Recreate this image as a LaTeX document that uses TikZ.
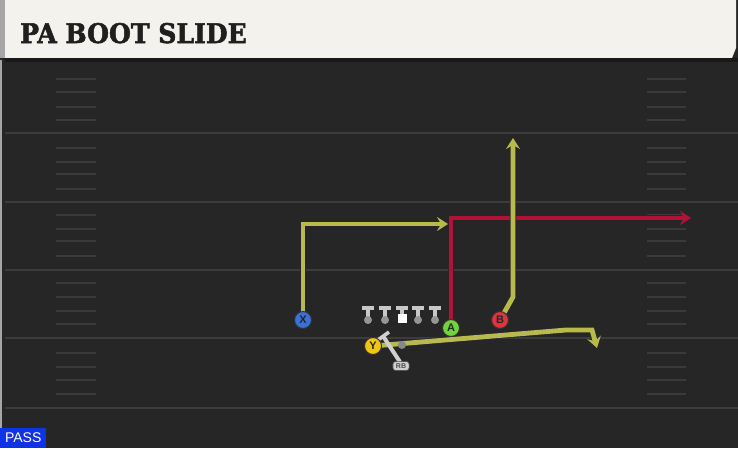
\documentclass[tikz,border=0pt]{standalone}
\usepackage{fontspec}
\setmainfont{Liberation Sans}
\newfontfamily\titlefont{DejaVu Serif Bold}[FakeBold=2]
\usetikzlibrary{arrows.meta}
\definecolor{field}{HTML}{262626}
\definecolor{yard}{HTML}{3C3C3C}
\definecolor{hash}{HTML}{3A3A3A}
\definecolor{hdr}{HTML}{F4F2EC}
\definecolor{rtyel}{HTML}{B8BB4B}
\definecolor{rtred}{HTML}{B0123A}
\definecolor{pblue}{HTML}{3A70D8}
\definecolor{pgreen}{HTML}{72D43C}
\definecolor{pred}{HTML}{E0323F}
\definecolor{pyel}{HTML}{F2C418}
\definecolor{olgrey}{HTML}{C8C8C8}
\definecolor{passblue}{HTML}{1033E6}
\tikzset{
  yardline/.style={draw=yard,line width=2pt},
  hashmark/.style={draw=hash,line width=1.6pt},
  route/.style={line width=4.8pt,line join=miter,
    preaction={draw=black!85,line width=6.4pt},
    -{Stealth[length=11pt,width=14pt,inset=4pt]}},
  yroute/.style={route,draw=rtyel},
  rroute/.style={route,draw=rtred},
  player/.style={circle,draw=black!80,line width=1pt,minimum size=17pt,inner sep=0pt,
    font=\bfseries\fontsize{11}{11}\selectfont,text=black!85},
  lineman/.style={draw=olgrey,line width=3.6pt},
}
\begin{document}
\begin{tikzpicture}[x=1pt,y=-1pt]
\useasboundingbox (0,0) rectangle (738,448);
% field
\fill[field] (0,0) rectangle (738,448);
\fill[black!35] (0,60) rectangle (2,448);
% header
\fill[black!35] (0,0) rectangle (5,58);
\fill[hdr] (5,0) -- (736,0) -- (736,48) -- (732,58) -- (5,58) -- cycle;
\fill[black!90] (5,58) rectangle (738,62);
\node[anchor=base west,inner sep=0pt,xscale=0.93,text=black!88] (title) at (20,43)
  {\titlefont\fontsize{27}{27}\selectfont PA BOOT SLIDE};
% yard lines
\foreach \yy in {133,202,270,338,408} \draw[yardline] (5,\yy) -- (738,\yy);
% hash marks
\foreach \yy in {79,92,107,120,148,162,174,189,215,229,241,256,283,297,311,324,353,367,380,394}{
  \draw[hashmark] (56,\yy) -- (96,\yy);
  \draw[hashmark] (647,\yy) -- (686,\yy);
}
% player anchors
\coordinate (xc) at (303,320);
\coordinate (ac) at (451,328);
\coordinate (bc) at (500,320);
\coordinate (yc) at (373,346);
% routes
\coordinate (x1) at (303,224);
\coordinate (x2) at (448,224);
\draw[yroute] (xc) -- (x1) -- (x2);
\coordinate (a1) at (451,218);
\coordinate (a2) at (691,218);
\draw[rroute] (ac) -- (a1) -- (a2);
\coordinate (b1) at (513,297);
\coordinate (b2) at (513,138);
\draw[yroute] (bc) -- (b1) -- (b2);
\coordinate (y1) at (566,330);
\coordinate (y2) at (592,330);
\coordinate (y3) at (597,348);
\draw[yroute] (yc) -- (y1) -- (y2) -- (y3);
% offensive line
\foreach \lx in {368,385,418,435}{
  \draw[lineman] (\lx-6,308) -- (\lx+6,308);
  \draw[lineman] (\lx,308) -- (\lx,318);
  \fill[olgrey!75!black] (\lx,320) circle (4pt);
}
\draw[lineman] (396,308) -- (408,308);
\draw[lineman] (402,308) -- (402,315);
\fill[white] (397.5,314) rectangle (406.5,322.5);
% QB ghost and RB
\fill[olgrey!60!field] (402,345) circle (4pt);
\draw[draw=olgrey!85,line width=4pt] (383,336) -- (400,362);
\draw[draw=olgrey!85,line width=3.6pt] (378,340) -- (389,332);
\node[fill=olgrey!85,draw=black!70,line width=0.6pt,rounded corners=2.5pt,inner xsep=3pt,inner ysep=2pt,
  font=\bfseries\fontsize{7}{7}\selectfont,text=black!70] (rb) at (401,366) {RB};
% players
\node[player,fill=pblue] (X) at (xc) {X};
\node[player,fill=pgreen] (A) at (ac) {A};
\node[player,fill=pred] (B) at (bc) {B};
\node[player,fill=pyel] (Y) at (yc) {Y};
% pass label
\node[fill=passblue,text=white,anchor=south west,minimum width=46pt,minimum height=20pt,inner sep=0pt,
  font=\fontsize{14}{14}\selectfont] (pass) at (0,448) {PASS};
\end{tikzpicture}
\end{document}
